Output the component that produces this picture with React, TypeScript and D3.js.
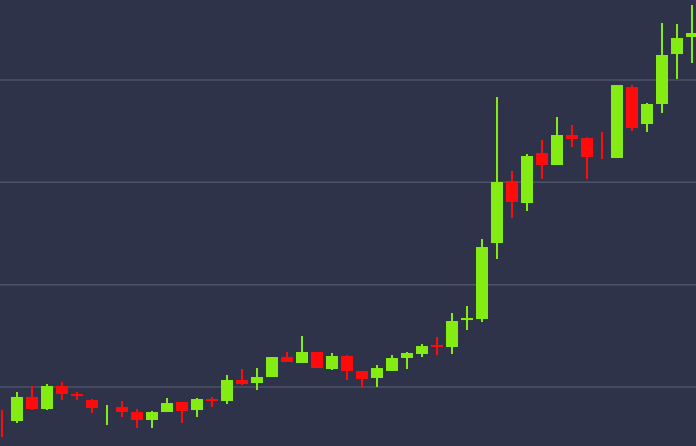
import React from "react";
import * as d3 from "d3";

const W = 696;
const H = 446;

// OHLC values (one candle per day)
const opens = [3455, 3335, 3805, 3570, 4020, 3863, 3746, 3450, 3609, 3511, 3355, 3511, 3707, 3550, 3765, 3726, 4137, 4078, 4195, 4586, 4469, 4684, 4352, 4606, 4313, 4176, 4313, 4567, 4645, 4821, 4782, 5309, 5329, 6814, 8026, 7596, 8573, 8339, 8925, 8866, 8702, 8476, 9863, 9140, 9531, 10508, 10840];
const closes = [3450, 3805, 3570, 4020, 3863, 3824, 3590, 3450, 3511, 3355, 3511, 3687, 3531, 3765, 3726, 4137, 4059, 4195, 4586, 4489, 4684, 4371, 4606, 4313, 4156, 4371, 4567, 4665, 4801, 4782, 5290, 5349, 6736, 8007, 7616, 8515, 8339, 8925, 8847, 8495, 8700, 9902, 9062, 9531, 10489, 10821, 10919];
const highs = [3550, 3902, 4020, 4059, 4098, 3902, 3765, 3648, 3726, 3570, 3531, 3785, 3707, 3785, 3805, 4235, 4352, 4371, 4586, 4684, 4997, 4684, 4665, 4625, 4313, 4430, 4625, 4684, 4840, 4977, 5446, 5583, 6893, 9668, 8222, 8554, 8827, 9277, 9121, 8886, 8984, 9902, 9902, 9550, 11114, 11095, 11466];
const lows = [3023, 3296, 3550, 3550, 3746, 3746, 3492, 3257, 3414, 3199, 3199, 3511, 3296, 3414, 3609, 3668, 4039, 3941, 4195, 4489, 4469, 4371, 4332, 4137, 4000, 4000, 4313, 4352, 4586, 4625, 4645, 5114, 5270, 6502, 7303, 7440, 8065, 8339, 8691, 8065, 8456, 8476, 9003, 8984, 9355, 10020, 10332];
const gridValues = [4000, 6000, 8000, 10000];

const BG = "#2e3349";
const GREEN = "#84ec12";
const RED = "#ff0b0b";
const GRID = "#4d5469";

export default function App() {
  const x = d3.scaleLinear().domain([0, opens.length - 1]).range([2, 692]);
  const y = d3.scaleLinear().domain([2847, 11564]).range([H, 0]);
  const bodyW = 12;

  return (
    <svg
      width={W}
      height={H}
      style={{ position: "absolute", left: 0, top: 0, display: "block" }}
    >
      <rect x={0} y={0} width={W} height={H} fill={BG} />
      {gridValues.map((g) => (
        <line
          key={g}
          x1={0}
          x2={W}
          y1={y(g)}
          y2={y(g)}
          stroke={GRID}
          strokeWidth={1.5}
        />
      ))}
      {opens.map((o, i) => {
        const c = closes[i];
        const up = c >= o;
        const col = up ? GREEN : RED;
        const cx = x(i);
        const top = y(Math.max(o, c));
        const bot = y(Math.min(o, c));
        return (
          <g key={i}>
            <line
              x1={cx}
              x2={cx}
              y1={y(highs[i])}
              y2={y(lows[i])}
              stroke={col}
              strokeWidth={2}
            />
            {bot - top > 0.5 && (
              <rect
                x={cx - bodyW / 2}
                y={top}
                width={bodyW}
                height={bot - top}
                fill={col}
              />
            )}
          </g>
        );
      })}
    </svg>
  );
}
